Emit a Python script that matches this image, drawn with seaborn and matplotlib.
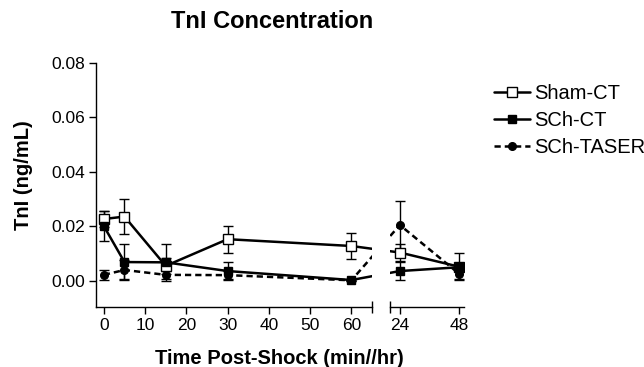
import numpy as np
import pandas as pd
import matplotlib
matplotlib.use("Agg")
import matplotlib.pyplot as plt
import seaborn as sns

# ── DATA ──────────────────────────────────────────
minutes = [0, 5, 15, 30, 60]
hours = [24, 48]

sham_mean = [0.0226, 0.0235, 0.0054, 0.0152, 0.0127, 0.0103, 0.0051]
sham_err = [0.0030, 0.0065, 0.0030, 0.0050, 0.0047, 0.0030, 0.0050]
sch_mean = [0.0200, 0.0068, 0.0067, 0.0035, 0.0002, 0.0035, 0.0049]
sch_err = [0.0055, 0.0066, 0.0067, 0.0032, 0.0003, 0.0033, 0.0010]
taser_mean = [0.0021, 0.0039, 0.0021, 0.0020, 0.0001, 0.0204, 0.0025]
taser_err = [0.0018, 0.0035, 0.0015, 0.0015, 0.0002, 0.0090, 0.0018]

labels = ["Sham-CT", "SCh-CT", "SCh-TASER"]

# ── STYLE ──────────────────────────────────────────
sns.set_style("ticks", rc={"axes.edgecolor": "black", "xtick.color": "black",
                           "ytick.color": "black", "text.color": "black",
                           "axes.labelcolor": "black"})
plt.rcParams["font.family"] = ["Liberation Sans", "DejaVu Sans"]

W, H = 644, 367
fig = plt.figure(figsize=(W / 100, H / 100), dpi=100)

# broken x axis: minutes on the left, hours on the right
ax1 = fig.add_axes([96 / W, 1 - 307 / H, 276 / W, 244.3 / H])
ax2 = fig.add_axes([390 / W, 1 - 307 / H, 74 / W, 244.3 / H], sharey=ax1)
ax1.set_xlim(-1.9, 65)
ax2.set_xlim(20, 50)
ax1.set_ylim(-0.0097, 0.08)

# place every time point on each axes' own scale so the lines run across the break
def to_axis(src, dst, xs):
    pts = np.column_stack([xs, np.zeros(len(xs))])
    disp = src.transData.transform(pts)
    return dst.transData.inverted().transform(disp)[:, 0]

x_left = np.concatenate([minutes, to_axis(ax2, ax1, hours)])
x_right = np.concatenate([to_axis(ax1, ax2, minutes), hours])

series = [
    (labels[0], sham_mean, sham_err, "s", "white", 6.5, "-"),
    (labels[1], sch_mean, sch_err, "s", "black", 6.0, "-"),
    (labels[2], taser_mean, taser_err, "o", "black", 5.5, (0, (2.5, 1.6))),
]

for ax, xs in [(ax1, x_left), (ax2, x_right)]:
    for name, mean, err, mk, fc, ms, ls in series:
        ax.errorbar(xs, mean, yerr=err, fmt="none", ecolor="black",
                    elinewidth=1.0, capsize=3.5, capthick=1.0, zorder=2)
        df = pd.DataFrame({"x": xs, "y": mean})
        sns.lineplot(data=df, x="x", y="y", ax=ax, color="black", lw=1.8,
                     linestyle=ls, marker=mk, markersize=ms, markerfacecolor=fc,
                     markeredgecolor="black", markeredgewidth=1.0,
                     label=name, legend=False, zorder=3)

# axes cosmetics
for ax in (ax1, ax2):
    ax.spines["top"].set_visible(False)
    ax.spines["right"].set_visible(False)
    ax.spines["bottom"].set_linewidth(1.0)
    ax.set_xlabel("")
    ax.set_ylabel("")
    ax.tick_params(axis="x", length=5, width=1.0, labelsize=12.5, pad=3)

ax1.spines["left"].set_linewidth(1.0)
ax1.set_yticks([0.0, 0.02, 0.04, 0.06, 0.08])
ax1.set_yticklabels(["0.00", "0.02", "0.04", "0.06", "0.08"])
ax1.tick_params(axis="y", length=5, width=1.0, labelsize=12.5, pad=3)
ax1.set_xticks([0, 10, 20, 30, 40, 50, 60])
ax1.set_xticks([65], minor=True)

ax2.spines["left"].set_visible(False)
ax2.tick_params(axis="y", left=False, labelleft=False)
ax2.set_xticks(hours)
ax2.set_xticks([20], minor=True)
for ax in (ax1, ax2):
    ax.tick_params(axis="x", which="minor", direction="inout", length=9, width=1.0)

ax1.set_ylabel("TnI (ng/mL)", fontsize=14.5, fontweight="bold")
ax1.yaxis.set_label_coords(-0.23, 0.54)

fig.text(279 / W, 1 - 358 / H, "Time Post-Shock (min//hr)", ha="center", va="center",
         fontsize=14.5, fontweight="bold")
fig.text(272 / W, 1 - 21 / H, "TnI Concentration", ha="center", va="center",
         fontsize=17, fontweight="bold")

handles, lbls = ax1.get_legend_handles_labels()
fig.legend(handles[:3], lbls[:3], loc="upper left", bbox_to_anchor=(486 / W, 1 - 76 / H),
           frameon=False, fontsize=14.5, handlelength=1.8, handletextpad=0.2,
           labelspacing=0.4, borderaxespad=0)

fig.savefig("out.png", dpi=100)
